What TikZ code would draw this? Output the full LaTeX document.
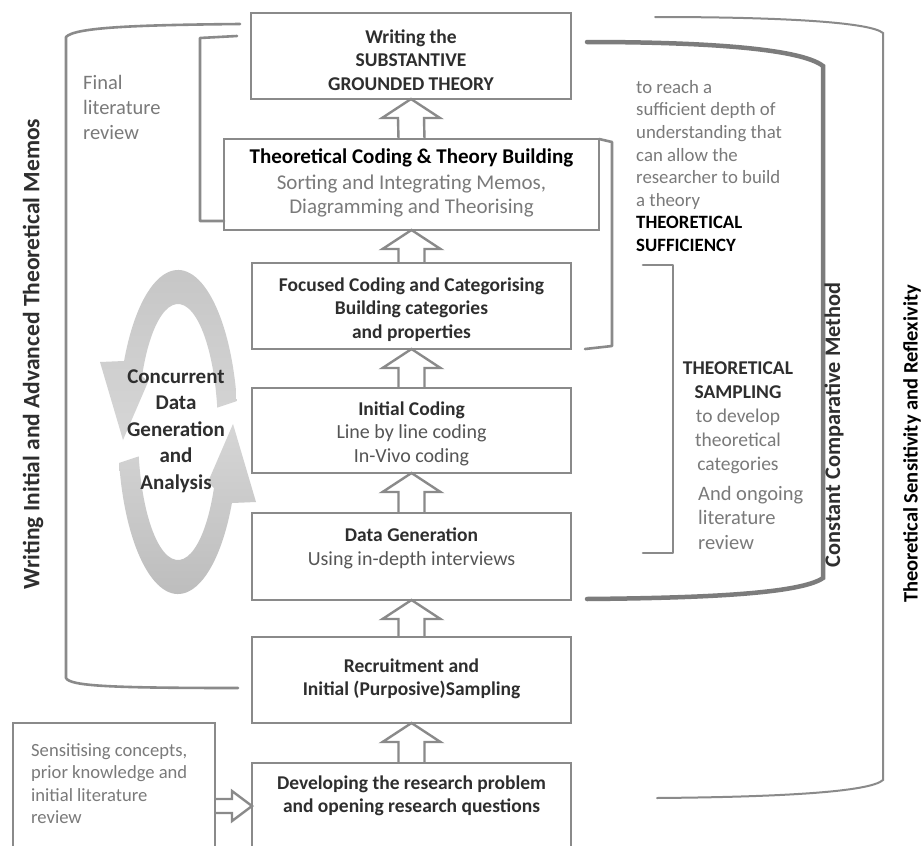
\documentclass[tikz,border=0pt]{standalone}
\usepackage{fontspec}
\setmainfont{Carlito}
\usetikzlibrary{calc}

\definecolor{boxgray}{HTML}{8A8A8A}
\definecolor{ink}{HTML}{2E2E2E}
\definecolor{softgray}{HTML}{7A7A7A}
\definecolor{midgray}{HTML}{555555}
\definecolor{ringlight}{HTML}{D6D6D6}
\definecolor{ringdark}{HTML}{BBBBBB}

\newcommand{\fsz}[2]{\fontsize{#1}{#2}\selectfont}

% hollow block arrow pointing up from node #1 to node #2
\newcommand{\hollowup}[2]{%
  \draw[hollow] ($(#1.north)+(-13,0)$) -- ($(#2.south)+(-13,19)$)
    -- ($(#2.south)+(-29,19)$) -- (#2.south) -- ($(#2.south)+(29,19)$)
    -- ($(#2.south)+(13,19)$) -- ($(#1.north)+(13,0)$);}

\tikzset{
  box/.style={draw=boxgray, line width=2.4pt, fill=white, inner sep=0pt, outer sep=0pt},
  hollow/.style={draw=boxgray, line width=2.4pt, line join=miter},
  ttl/.style={font=\bfseries\fsz{19.5}{23.5}, text=ink, align=center, inner sep=0pt},
  sub/.style={font=\fsz{20}{24}, text=midgray, align=center, inner sep=0pt},
  note/.style={font=\fsz{18.8}{22.6}, text=softgray, align=left, inner sep=0pt},
  bracket/.style={draw=boxgray, line width=2.6pt, line cap=round, line join=round},
  vtitle/.style={rotate=90, font=\bfseries, text=ink, inner sep=0pt}
}

\begin{document}
\begin{tikzpicture}[x=1pt,y=-1pt]
\useasboundingbox (0,0) rectangle (922,846);
\clip (0,0) rectangle (922,846);
\fill[white] (0,0) rectangle (922,846);

% ---- cycle of concurrent data generation and analysis ----
\begin{scope}[shift={(178,432)}, y=1pt]
  \path[top color=ringdark!85, bottom color=ringlight]
    (11:60 and 162) arc[start angle=11, end angle=154, x radius=60, y radius=162]
    -- (-78,70) -- (-55,-8) -- (-30,50)
    -- (154:40 and 128) arc[start angle=154, end angle=11, x radius=40, y radius=128] -- cycle;
  \path[top color=ringlight, bottom color=ringdark]
    (191:60 and 162) arc[start angle=191, end angle=334, x radius=60, y radius=162]
    -- (78,-70) -- (55,8) -- (30,-50)
    -- (334:40 and 128) arc[start angle=334, end angle=191, x radius=40, y radius=128] -- cycle;
\end{scope}
\node[ttl, font=\bfseries\fsz{21}{26.5}] (cycle) at (176,431)
  {Concurrent\\Data\\Generation\\and\\Analysis};

% ---- process boxes ----
\node[box, minimum width=320, minimum height=86] (b1) at (411,56) {};
\node[ttl] (b1t) at (411,60) {Writing the\\SUBSTANTIVE\\GROUNDED THEORY};

\node[box, minimum width=375, minimum height=91] (b2) at (411.5,184.5) {};
\node[ttl, font=\bfseries\fsz{21}{25}, text=black] (b2t) at (411.5,158) {Theoretical Coding \& Theory Building};
\node[sub, font=\fsz{21}{24.5}, text=softgray] (b2s) at (411.5,196) {Sorting and Integrating Memos,\\Diagramming and Theorising};

\node[box, minimum width=319, minimum height=86] (b3) at (411.5,306) {};
\node[ttl] (b3t) at (411.5,309.5) {Focused Coding and Categorising\\Building categories\\and properties};

\node[box, minimum width=319, minimum height=85] (b4) at (411.5,430.5) {};
\node[ttl] (b4t) at (411.5,410) {Initial Coding};
\node[sub] (b4s) at (411.5,445.5) {Line by line coding\\In-Vivo coding};

\node[box, minimum width=319, minimum height=87] (b5) at (411.5,556.5) {};
\node[ttl] (b5t) at (411.5,535) {Data Generation};
\node[sub] (b5s) at (411.5,560) {Using in-depth interviews};

\node[box, minimum width=319, minimum height=86] (b6) at (411.5,680) {};
\node[ttl] (b6t) at (411.5,679) {Recruitment and\\Initial (Purposive)Sampling};

\node[box, minimum width=319, minimum height=100] (b7) at (411.5,813) {};
\node[ttl] (b7t) at (411.5,796) {Developing the research problem\\and opening research questions};

\node[box, minimum width=202, minimum height=140] (sens) at (114,793) {};
\node[note, font=\fsz{18.6}{22.5}, anchor=west] (senst) at (31,783.5)
  {Sensitising concepts,\\prior knowledge and\\initial literature\\review};

% ---- hollow arrows between stages ----
\hollowup{b2}{b1}
\hollowup{b3}{b2}
\hollowup{b4}{b3}
\hollowup{b5}{b4}
\hollowup{b6}{b5}
\hollowup{b7}{b6}
\coordinate (tip) at ($(b7.west)+(0,-7)$);
\draw[hollow] ($(tip)+(-37,-7)$) -- ($(tip)+(-20,-7)$) -- ($(tip)+(-20,-15)$) -- (tip)
  -- ($(tip)+(-20,15)$) -- ($(tip)+(-20,7)$) -- ($(tip)+(-37,7)$);

% ---- left brackets ----
\draw[bracket] (240,24) .. controls (140,25) and (75,27) .. (66,37) -- (66,678)
  .. controls (70,686) and (110,688) .. (238,688);
\draw[bracket] (237,36) -- (200,38) -- (200,221) -- (b2.west |- 0,221);
\node[note, font=\fsz{20.5}{25}, anchor=west] (finallit) at (83,107) {Final\\literature\\review};
\node[vtitle, font=\bfseries\fsz{23.5}{26}] (memos) at (33,354) {Writing Initial and Advanced Theoretical Memos};

% ---- right brackets ----
\draw[bracket] (b2.north east) -- (612,142) -- (612,346) -- (585,349);
\draw[bracket] (643,265) -- (673,265) -- (673,553) -- (643,553);
\draw[draw=boxgray!90!black, line width=4.5pt, line cap=round] (587,42) .. controls (700,42) and (800,48) .. (823,66)
  -- (823,578) .. controls (800,594) and (700,598) .. (587,599);
\draw[draw=boxgray, line width=2pt, line cap=round] (655,17) .. controls (780,17) and (870,22) .. (883,33)
  -- (883,780) .. controls (870,792) and (780,797) .. (657,798);

\node[note, anchor=west] (suff) at (636,166)
  {to reach a\\sufficient depth of\\understanding that\\can allow the\\researcher to build\\a theory\\
   \textcolor{black}{\bfseries THEORETICAL}\\\textcolor{black}{\bfseries SUFFICIENCY}};

\node[ttl, font=\fsz{19.5}{24}, text=softgray] (samp) at (738,417.5)
  {\textcolor{ink}{\bfseries THEORETICAL}\\\textcolor{ink}{\bfseries SAMPLING}\\to develop\\theoretical\\categories};
\node[note, font=\fsz{20.5}{24.5}, anchor=west] (ongoing) at (698,517.5) {And ongoing\\literature\\review};

\node[vtitle, font=\bfseries\fsz{22.3}{26}] (ccm) at (834,425) {Constant Comparative Method};
\node[vtitle, font=\bfseries\fsz{20.5}{24}, text=black] (tsr) at (912,444) {Theoretical Sensitivity and Reflexivity};
\end{tikzpicture}
\end{document}
